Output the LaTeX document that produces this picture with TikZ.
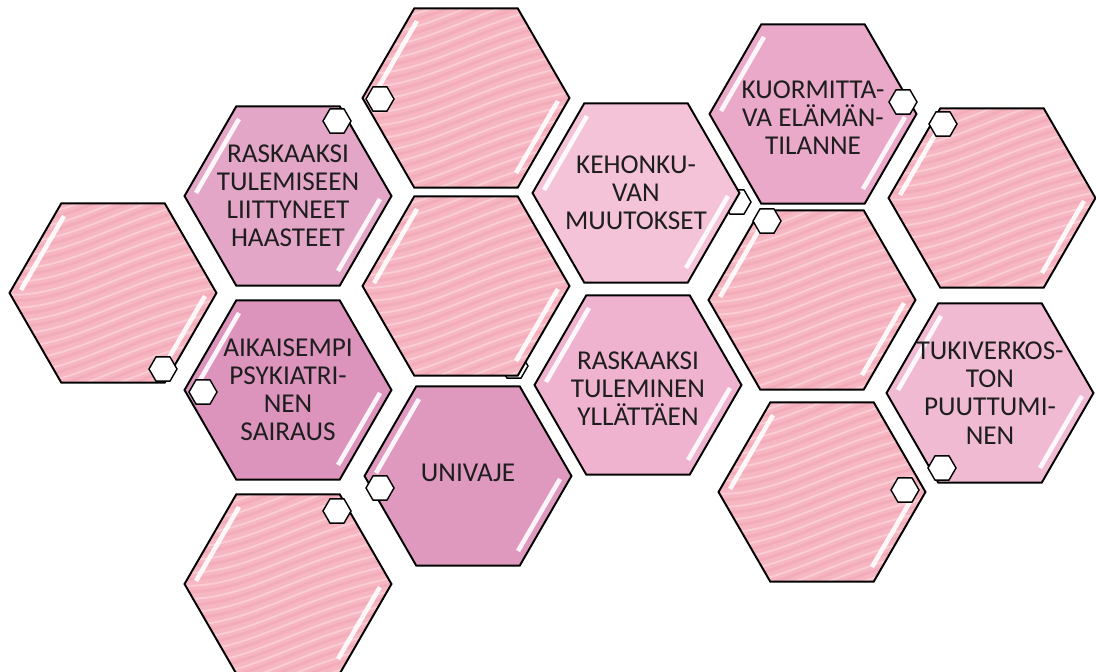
\documentclass[tikz,border=0pt]{standalone}
\usepackage{fontspec}
\setmainfont{Carlito}
\usetikzlibrary{shapes.geometric}

\definecolor{pinkbase}{HTML}{F6B6C2}
\definecolor{pinklite}{HTML}{FCD8DE}
\definecolor{pinkdark}{HTML}{EC9AAC}
\definecolor{tulemiseen}{HTML}{E4A6C6}
\definecolor{kehonkuva}{HTML}{F4C3D8}
\definecolor{kuorma}{HTML}{EBA9C9}
\definecolor{aikaisempi}{HTML}{DC93BC}
\definecolor{tuleminen}{HTML}{EFB3CF}
\definecolor{tukiverkko}{HTML}{F1BAD3}
\definecolor{univaje}{HTML}{DF98BE}
\definecolor{tekstivari}{HTML}{1E1E1E}

\begin{document}
\begin{tikzpicture}[
	x=0.02cm, y=-0.02cm,
	hexa/.style={
		regular polygon,
		regular polygon sides=6,
		minimum size=4.14cm,
		inner sep=0pt,
		draw=black,
		line width=1.1pt
	},
	texture/.style={
		hexa,
		fill=pinkbase,
		path picture={
			\begin{scope}[shift={(path picture bounding box.center)}]
				\foreach \b in {-130,-117,...,130} {
					\draw[pinkdark, opacity=.35, line width=1.6pt]
						(-130,\b+30) .. controls (-50,\b+50) and (10,\b-15) .. (130,\b-30);
					\draw[pinklite, opacity=.7, line width=1.1pt]
						(-130,\b+37) .. controls (-50,\b+57) and (10,\b-8) .. (130,\b-23);
				}
			\end{scope}
		}
	},
	mini/.style={
		regular polygon,
		regular polygon sides=6,
		minimum size=0.56cm,
		inner sep=0pt,
		draw=black,
		fill=white,
		line width=0.8pt
	},
	gloss/.style={white, opacity=.9, line width=2.6pt},
	hextext/.style={
		align=center,
		text=tekstivari,
		font=\fontsize{15.5}{16}\selectfont
	}
]
\useasboundingbox (0,0) rectangle (1096,672);

\node[mini] (piilo1) at (514,366) {};
\node[mini] (piilo2) at (737,202) {};

\node[texture] (vasen) at (113,293) {};
\node[hexa, fill=tulemiseen] (tulemiseen) at (288,196) {};
\node[texture] (ylakuva) at (466,98) {};
\node[texture] (keskikuva) at (466,286) {};
\node[hexa, fill=kehonkuva] (kehonkuva) at (636,193) {};
\node[hexa, fill=kuorma] (kuorma) at (813,114) {};
\node[texture] (oikeaylä) at (992,198) {};
\node[texture] (oikeakeski) at (812,300) {};
\node[hexa, fill=aikaisempi] (aikaisempi) at (288,390) {};
\node[hexa, fill=tuleminen] (tuleminen) at (638,385) {};
\node[hexa, fill=tukiverkko] (tukiverkko) at (990,393) {};
\node[hexa, fill=univaje] (univaje) at (468,476) {};
\node[texture] (alavasen) at (288,584) {};
\node[texture] (alaoikea) at (822,492) {};

\foreach \h in {vasen,tulemiseen,ylakuva,keskikuva,kehonkuva,kuorma,oikeaylä,oikeakeski,aikaisempi,tuleminen,tukiverkko,univaje,alavasen,alaoikea} {
	\draw[gloss] ([shift={(-49,-77)}]\h.center) -- ([shift={(-92,-3)}]\h.center);
	\draw[gloss] ([shift={(92,3)}]\h.center) -- ([shift={(50,75)}]\h.center);
}

\node[hextext] (t1) at (tulemiseen) {RASKAAKSI\\TULEMISEEN\\LIITTYNEET\\HAASTEET};
\node[hextext] (t2) at (kehonkuva) {KEHONKU-\\VAN\\MUUTOKSET};
\node[hextext] (t3) at ([yshift=-2]kuorma.center) {KUORMITTA-\\VA ELÄMÄN-\\TILANNE};
\node[hextext] (t4) at (aikaisempi) {AIKAISEMPI\\PSYKIATRI-\\NEN\\SAIRAUS};
\node[hextext] (t5) at ([yshift=-2]tuleminen.center) {RASKAAKSI\\TULEMINEN\\YLLÄTTÄEN};
\node[hextext] (t6) at (tukiverkko) {TUKIVERKOS-\\TON\\PUUTTUMI-\\NEN};
\node[hextext] (t7) at ([yshift=2]univaje.center) {UNIVAJE};

\node[mini] (m1) at (163,369) {};
\node[mini] (m2) at (203,392) {};
\node[mini] (m3) at (337,121) {};
\node[mini] (m4) at (380,99) {};
\node[mini] (m5) at (337,511) {};
\node[mini] (m6) at (380,488) {};
\node[mini] (m7) at (903,102) {};
\node[mini] (m8) at (943,124) {};
\node[mini] (m9) at (767,221) {};
\node[mini] (m10) at (942,468) {};
\node[mini] (m11) at (905,490) {};
\end{tikzpicture}
\end{document}
